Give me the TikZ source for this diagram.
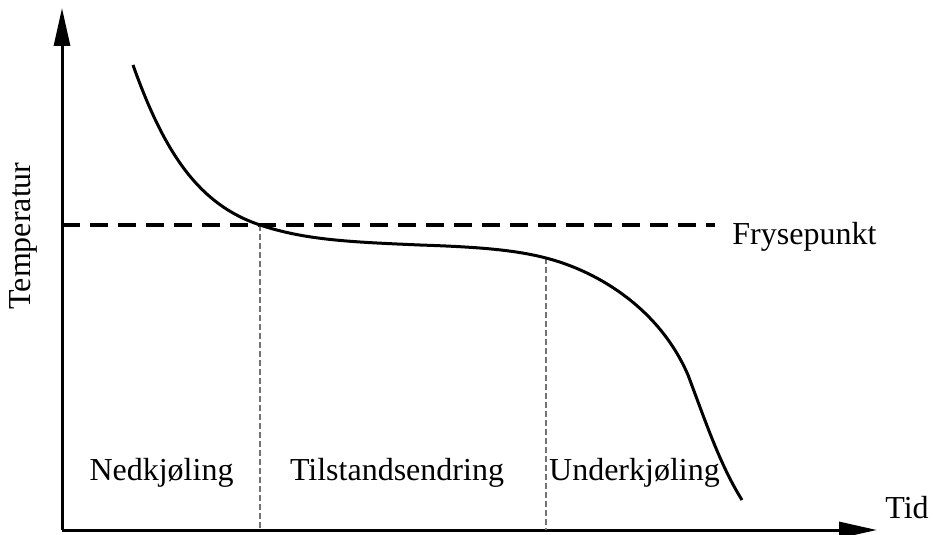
\documentclass[tikz,border=0pt]{standalone}
\usepackage{fontspec}
\setmainfont{Liberation Serif}
\usetikzlibrary{arrows.meta}
\begin{document}
\begin{tikzpicture}[x=0.5pt,y=-0.5pt,
  axis/.style={line width=1.5pt,-{Triangle[length=19pt,width=8pt]}},
  freeze/.style={line width=1.8pt,dash pattern=on 9pt off 5pt},
  divider/.style={line width=1.1pt,draw=black!55,dash pattern=on 3pt off 1.5pt},
  curve/.style={line width=1.5pt},
  lbl/.style={font=\fontsize{16}{19}\selectfont,inner sep=0pt,anchor=base}]
\useasboundingbox (0,0) rectangle (933,535);
\coordinate (O) at (62,530);
\coordinate (ytop) at (62,8);
\coordinate (xend) at (877,530);
\coordinate (fs) at (62,225);
\coordinate (fe) at (715,225);
\coordinate (d1t) at (260,225);
\coordinate (d1b) at (260,530);
\coordinate (d2t) at (546,258);
\coordinate (d2b) at (546,530);
\draw[axis] (O) -- (ytop);
\draw[axis] (O) -- (xend);
\draw[freeze] (fs) -- (fe);
\draw[divider] (d1t) -- (d1b);
\draw[divider] (d2t) -- (d2b);
\draw[curve] (133,65) .. controls (165,155) and (200,205) .. (d1t)
  .. controls (305,240) and (350,242) .. (420,245)
  .. controls (480,247) and (515,250) .. (d2t)
  .. controls (600,272) and (660,310) .. (688,375)
  .. controls (705,420) and (720,465) .. (742,500);
\node[lbl] (ned) at (161.5,480) {Nedkjøling};
\node[lbl] (til) at (397,480) {Tilstandsendring};
\node[lbl] (und) at (634.5,480) {Underkjøling};
\node[lbl,anchor=base west] (fry) at (732,245) {Frysepunkt};
\node[lbl,anchor=base west] (tid) at (885,518) {Tid};
\node[lbl,rotate=90] (temp) at (31,236) {Temperatur};
\end{tikzpicture}
\end{document}
